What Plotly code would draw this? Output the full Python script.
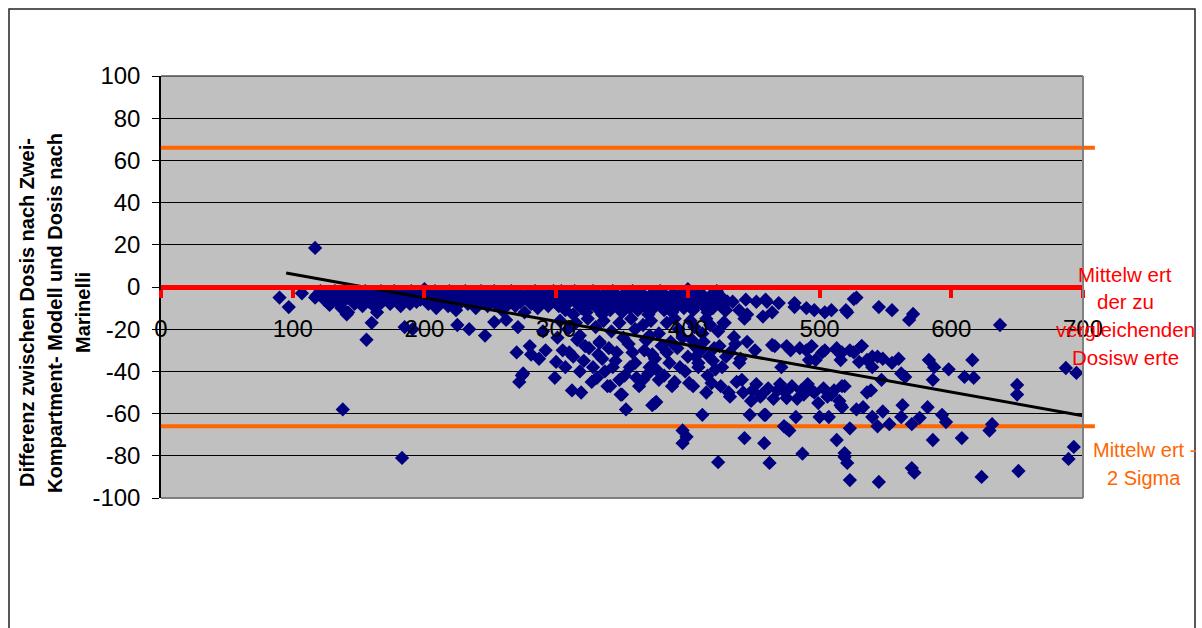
import plotly.graph_objects as go

# Differenz (Zwei-Kompartment-Modell minus Marinelli) gegen die Dosis
early_points = [
    (90, -5), (97, -9.5), (107, -3), (117, 18.5), (117, -5), (128, -8.5),
    (138, -58), (141, -13), (156, -25), (160, -17), (164, -12), (183, -81),
    (185, -19), (191, -20), (225, -18), (234, -20), (246, -23), (253, -16.6),
    (262, -15.6),
]

band_100_200 = [
    (118, -4), (121, -2), (124, -6), (126, -3), (128, -8), (130, -5), (132, -2),
    (134, -7), (135, -4), (137, -10), (139, -3), (140, -6), (142, -12), (143, -2),
    (145, -5), (147, -8), (148, -3), (150, -6), (152, -4), (153, -9), (155, -2),
    (157, -5), (158, -7), (160, -3), (162, -6), (163, -10), (165, -4), (167, -2),
    (168, -7), (170, -5), (172, -3), (174, -8), (175, -5), (177, -2), (179, -6),
    (180, -4), (182, -9), (184, -3), (185, -6), (187, -4), (189, -8), (190, -2),
    (192, -5), (194, -7), (195, -3), (197, -6), (199, -4), (200, -1),
]

band_200_300 = [
    (201, -5), (203, -8), (204, -3), (206, -6), (208, -2), (209, -10), (211, -4),
    (213, -7), (214, -3), (216, -5), (218, -9), (219, -2), (221, -6), (223, -4),
    (224, -11), (226, -3), (228, -7), (229, -5), (231, -2), (233, -8), (234, -4),
    (236, -6), (238, -3), (239, -10), (241, -5), (243, -2), (244, -7), (246, -4),
    (248, -9), (249, -3), (251, -6), (253, -2), (254, -8), (256, -5), (258, -3),
    (259, -11), (261, -6), (263, -4), (264, -8), (266, -2), (268, -5), (269, -9),
    (271, -3), (273, -7), (274, -4), (276, -12), (278, -6), (279, -3), (281, -8),
    (283, -5), (284, -2), (286, -10), (288, -4), (289, -7), (291, -3), (293, -6),
    (294, -9), (296, -4), (298, -2), (299, -7),
]

band_300_430 = [
    (301, -4), (302, -9), (304, -2), (305, -6), (307, -11), (308, -3), (310, -7),
    (311, -5), (313, -13), (314, -2), (316, -8), (317, -4), (319, -10), (320, -6),
    (322, -3), (323, -12), (325, -5), (326, -8), (328, -2), (329, -6), (331, -10),
    (332, -4), (334, -7), (335, -13), (337, -3), (338, -9), (340, -5), (341, -11),
    (343, -2), (344, -7), (346, -4), (347, -9), (349, -6), (350, -12), (352, -3),
    (353, -8), (355, -5), (356, -10), (358, -2), (359, -7), (361, -4), (362, -11),
    (364, -6), (365, -3), (367, -9), (368, -5), (370, -13), (371, -7), (373, -3),
    (374, -10), (376, -5), (377, -8), (379, -2), (380, -6), (382, -11), (383, -4),
    (385, -8), (386, -5), (388, -12), (389, -3), (391, -7), (392, -9), (394, -4),
    (395, -6), (397, -10), (398, -3), (400, -1), (401, -7), (403, -5), (404, -11),
    (406, -4), (407, -8), (409, -6), (410, -3), (412, -9), (413, -5), (415, -12),
    (416, -7), (418, -4), (419, -10), (421, -6), (422, -2), (424, -8), (426, -5),
    (428, -11), (430, -7),
]

tier_300_430 = [
    (303, -16), (309, -20), (315, -17), (318, -23), (324, -15), (330, -19),
    (333, -26), (336, -16), (342, -21), (348, -17), (351, -24), (357, -15),
    (360, -20), (366, -18), (369, -25), (372, -16), (378, -22), (384, -17),
    (387, -26), (390, -15), (393, -20), (396, -24), (402, -16), (405, -19),
    (411, -22), (414, -15), (417, -18), (423, -21), (427, -17),
]

cloud_270_420 = [
    (270, -31), (271, -19), (275, -41), (272, -45), (274, -42), (280, -28),
    (281, -32), (287, -34), (292, -30), (299, -43), (300, -35.5), (290, -21),
    (301, -24), (310, -31), (312, -49), (319, -50), (316, -25), (321, -35),
    (325, -29), (328, -38), (331, -43), (333, -26.5), (335, -34), (339, -47),
    (343, -38), (346, -31), (348, -44), (350, -51), (353, -58), (356, -38),
    (358, -31), (361, -43), (366, -44), (371, -38), (373, -56), (368, -25),
    (373, -32), (341, -47), (349, -51), (376, -54.5), (305, -30), (307, -38),
    (313, -33), (318, -40), (322, -28), (327, -45), (332, -32), (337, -40),
    (340, -29), (345, -35), (352, -42), (355, -27), (360, -36), (363, -47),
    (367, -30), (370, -41), (375, -34), (380, -28), (382, -42), (386, -36),
    (390, -45), (392, -29), (398, -40), (400, -33), (404, -47), (408, -38),
    (410, -30), (415, -42), (419, -35),
]

cloud_370_520 = [
    (371, -23), (376, -39), (375, -55), (378, -44), (384, -31), (388, -47),
    (394, -38), (396, -68), (396, -74), (399, -71), (401, -45.5), (403, -25),
    (406, -33), (411, -60.6), (414, -50), (418, -45.5), (421, -39), (423, -83),
    (424, -28), (428, -17), (429, -33), (431, -50), (435, -23.7), (439, -36),
    (441, -44), (443, -71.6), (445, -26), (447, -60.6), (449, -49), (451, -30),
    (455, -52), (458, -74), (459, -60.6), (462, -83.4), (466, -28), (468, -49),
    (471, -38), (473, -66), (475, -52.6), (477, -68), (478, -30), (482, -61.6),
    (486, -49), (487, -79), (490, -30), (492, -34.6), (494, -49), (497, -34.6),
    (500, -61.6), (502, -31), (507, -61.6), (509, -51), (513, -72.5), (513, -30),
    (516, -34.6), (517, -47), (519, -80.6), (516, -56), (458, -60.6), (475, -67),
    (405, -28), (408, -36), (412, -26), (416, -33), (420, -29), (426, -38),
    (432, -31), (436, -27), (440, -34),
]

band_400_560 = [
    (403, -2.4), (419, -3), (434, -7), (444, -6), (452, -7), (445, -13), (459, -6),
    (469, -7.6), (464, -12), (457, -14), (481, -9.5), (490, -10), (496, -11),
    (509, -11), (521, -12), (528, -5), (526, -5.7), (545, -9.5), (555, -11),
    (568, -15.6), (571, -12.8), (424, -7), (429, -11), (439, -11), (443, -15),
    (460, -7), (481, -7.6), (504, -12), (520, -11),
]

mid_band_460_560 = [
    (464, -27.5), (475, -28), (485, -29), (494, -28), (504, -30), (513, -29),
    (523, -30), (532, -28), (540, -33), (548, -34), (555, -36),
]

low_band_420_520 = [
    (425, -47), (432, -52), (437, -45), (442, -50), (448, -54), (452, -46),
    (456, -51), (461, -48), (465, -53), (470, -46), (474, -50), (479, -47),
    (483, -53), (488, -51), (491, -46), (496, -50), (499, -55), (503, -48),
    (506, -52), (511, -49), (515, -54),
]

right_points = [
    (637, -18), (517, -31), (526, -31), (532, -28), (530, -35.5), (536, -34.6),
    (540, -38), (544, -33), (547, -44), (560, -34), (562, -41), (565, -42.6),
    (583, -34.6), (587, -38), (586, -44), (598, -39), (610, -42.6), (616, -34.6),
    (617, -43), (650, -46.4), (650, -51), (687, -38.4), (695, -40.7),
    (519, -47), (517, -57), (523, -67), (528, -58), (533, -57), (536, -50),
    (539, -49), (540, -61.6), (544, -66), (548, -59), (553, -65), (563, -56),
    (562, -61.6), (570, -65), (576, -62), (582, -57), (586, -72.5), (593, -60.6),
    (596, -64), (608, -71.6), (629, -68), (631, -65), (519, -78.7), (521, -83.4),
    (523, -91.5), (545, -92.4), (570, -85.8), (572, -88), (623, -90),
    (651, -87.2), (689, -81.5), (693, -75.8),
]

groups = [early_points, band_100_200, band_200_300, band_300_430, tier_300_430,
          cloud_270_420, cloud_370_520, band_400_560, mid_band_460_560,
          low_band_420_520, right_points]
dose = [p[0] for g in groups for p in g]
diff = [p[1] for g in groups for p in g]

# Linear trend line (slope, intercept) and its x extent
trend_slope = -0.1117
trend_intercept = 17.2
trend_x = [95, 700]
trend_y = [trend_intercept + trend_slope * x for x in trend_x]

# Reference levels
two_sigma = 66
sigma_line_end = 709

y_ticks = list(range(-100, 101, 20))
x_ticks = list(range(0, 701, 100))

FONT = "Arial, 'Liberation Sans', sans-serif"
W, H = 1202, 628
L, R, T, B = 161, 1083, 76, 498


def px(xp):
    return (xp - L) / (R - L)


def py(yp):
    return (B - yp) / (B - T)


fig = go.Figure()

fig.add_trace(go.Scatter(
    x=dose, y=diff, mode="markers",
    marker=dict(symbol="diamond", size=11, color="#000080", line=dict(width=0)),
    hoverinfo="skip", showlegend=False,
))

fig.add_trace(go.Scatter(
    x=trend_x, y=trend_y, mode="lines",
    line=dict(color="black", width=3),
    hoverinfo="skip", showlegend=False,
))

shapes = []
# Mittelwert +/- 2 Sigma
for lvl in (two_sigma, -two_sigma):
    shapes.append(dict(type="line", xref="paper", yref="y",
                       x0=0, x1=sigma_line_end / 700, y0=lvl, y1=lvl,
                       line=dict(color="#FF6600", width=4), layer="below"))
# plot area frame: grey right/bottom, black top
shapes.append(dict(type="line", xref="paper", yref="paper", x0=1, x1=1, y0=0, y1=1,
                   line=dict(color="#808080", width=2), layer="above"))
shapes.append(dict(type="line", xref="paper", yref="paper", x0=0, x1=1, y0=0, y1=0,
                   line=dict(color="#808080", width=2), layer="above"))
shapes.append(dict(type="line", xref="paper", yref="paper", x0=0, x1=1, y0=1, y1=1,
                   line=dict(color="black", width=1), layer="below"))
# outer chart border
shapes.append(dict(type="rect", xref="paper", yref="paper",
                   x0=px(9), x1=px(1195), y0=py(660), y1=py(9),
                   line=dict(color="#222222", width=1.5), layer="below"))

annotations = []
ytitle = ["Differenz zwischen Dosis nach Zwei-",
          "Kompartment- Modell und Dosis nach",
          "Marinelli"]
for i, t in enumerate(ytitle):
    annotations.append(dict(text="<b>%s</b>" % t, xref="paper", yref="paper",
                            x=px(27 + 28 * i), y=py(313), textangle=-90,
                            showarrow=False, xanchor="center", yanchor="middle",
                            font=dict(family=FONT, size=20, color="black")))

mean_label = ["Mittelw ert", "der zu", "vergleichenden", "Dosisw erte"]
for i, t in enumerate(mean_label):
    annotations.append(dict(text=t, xref="paper", yref="paper",
                            x=px(1125), y=py(274 + 27.7 * i), showarrow=False,
                            xanchor="center", yanchor="middle",
                            font=dict(family=FONT, size=20.5, color="#FF0000")))

sigma_label = ["Mittelw ert -", "2 Sigma"]
for i, t in enumerate(sigma_label):
    annotations.append(dict(text=t, xref="paper", yref="paper",
                            x=px(1144), y=py(450 + 28 * i), showarrow=False,
                            xanchor="center", yanchor="middle",
                            font=dict(family=FONT, size=20, color="#FF6600")))

fig.update_layout(
    width=W, height=H, autosize=False,
    margin=dict(l=L, r=W - R, t=T, b=H - B, pad=0),
    paper_bgcolor="white", plot_bgcolor="#C0C0C0",
    font=dict(family=FONT, color="black"),
    showlegend=False,
    shapes=shapes, annotations=annotations,
    xaxis=dict(
        range=[0, 700], tickvals=x_ticks, ticktext=[str(v) for v in x_ticks],
        anchor="free", position=0.5,
        showline=True, linecolor="#FF0000", linewidth=5,
        ticks="outside", tickcolor="#FF0000", ticklen=8, tickwidth=4,
        showgrid=False, zeroline=False,
        tickfont=dict(family=FONT, size=24, color="black"),
        ticklabelstandoff=10,
    ),
    yaxis=dict(
        range=[-100, 100], tickvals=y_ticks, ticktext=[str(v) for v in y_ticks],
        showline=True, linecolor="black", linewidth=1.5,
        ticks="outside", tickcolor="black", ticklen=7, tickwidth=1,
        showgrid=True, gridcolor="#000000", gridwidth=1,
        zeroline=False,
        tickfont=dict(family=FONT, size=24, color="black"),
        ticklabelstandoff=7,
    ),
)

fig.write_html("out.html")
